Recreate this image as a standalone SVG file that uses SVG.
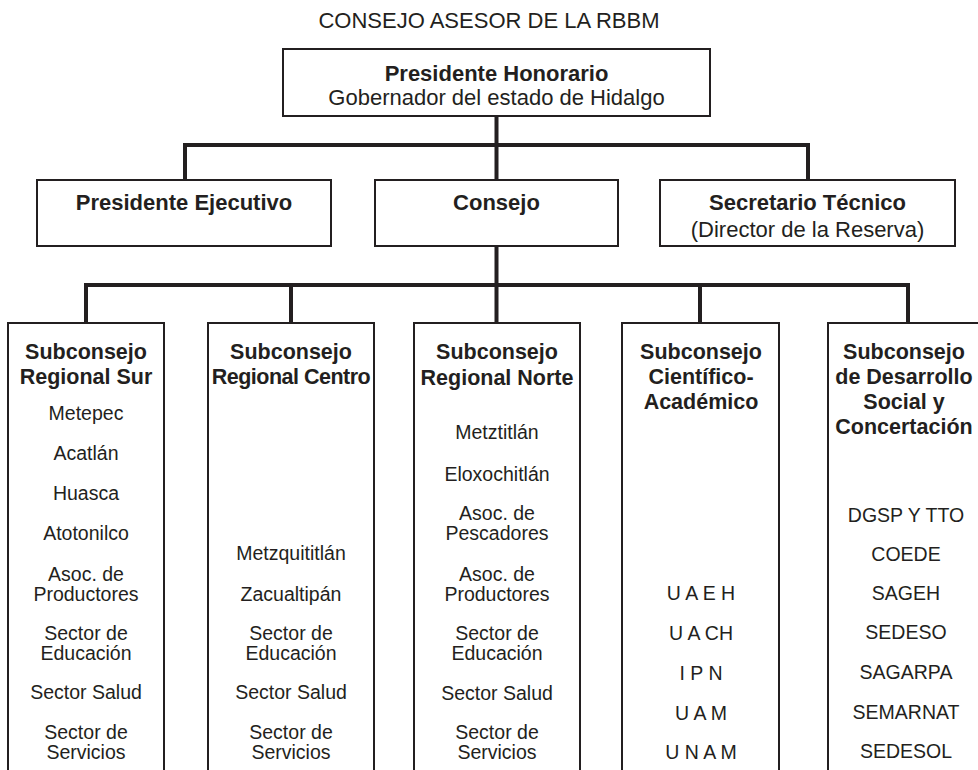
<svg xmlns="http://www.w3.org/2000/svg" width="978" height="770" viewBox="0 0 978 770">
<style>
text{font-family:"Liberation Sans",Arial,sans-serif;fill:#231f20;text-anchor:middle}
.t{font-size:22px}
.b{font-size:22px;font-weight:bold}
.h{font-size:21.5px;font-weight:bold}
.i{font-size:19.5px}
rect{fill:#fff;stroke:#231f20;stroke-width:2}
.c{fill:none;stroke:#231f20;stroke-width:4;stroke-linejoin:miter;stroke-linecap:square}
</style>
<rect x="0" y="0" width="978" height="770" style="stroke:none"/>
<text class="t" x="489" y="28">CONSEJO ASESOR DE LA RBBM</text>
<g id="connectors">
<path class="c" d="M496.5 117V180M185 180V145H808V180"/>
<path class="c" d="M496.5 247V323M86 323V285H908V323M291 285V323M700 285V323"/>
</g>
<g id="presidente-honorario">
<rect x="283" y="49" width="427" height="67"/>
<text class="b" x="496.5" y="81">Presidente Honorario</text>
<text class="t" x="496.5" y="105">Gobernador del estado de Hidalgo</text>
</g>
<g id="presidente-ejecutivo">
<rect x="37" y="180" width="294" height="66"/>
<text class="b" x="184" y="210">Presidente Ejecutivo</text>
</g>
<g id="consejo">
<rect x="375" y="180" width="243" height="66"/>
<text class="b" x="496.5" y="210">Consejo</text>
</g>
<g id="secretario-tecnico">
<rect x="660" y="180" width="295" height="66"/>
<text class="b" x="807.5" y="210">Secretario Técnico</text>
<text class="t" x="807.5" y="237">(Director de la Reserva)</text>
</g>
<g id="subconsejo-sur">
<rect x="8" y="323" width="156" height="460"/>
<text class="h" x="86" y="359">Subconsejo</text>
<text class="h" x="86" y="384">Regional Sur</text>
<text class="i" x="86" y="420">Metepec</text>
<text class="i" x="86" y="460">Acatlán</text>
<text class="i" x="86" y="500">Huasca</text>
<text class="i" x="86" y="540">Atotonilco</text>
<text class="i" x="86" y="581">Asoc. de</text>
<text class="i" x="86" y="601">Productores</text>
<text class="i" x="86" y="640">Sector de</text>
<text class="i" x="86" y="660">Educación</text>
<text class="i" x="86" y="699">Sector Salud</text>
<text class="i" x="86" y="739">Sector de</text>
<text class="i" x="86" y="759">Servicios</text>
</g>
<g id="subconsejo-centro">
<rect x="208" y="323" width="166" height="460"/>
<text class="h" x="291" y="359">Subconsejo</text>
<text class="h" x="291" y="384" letter-spacing="-0.5">Regional Centro</text>
<text class="i" x="291" y="560">Metzquititlán</text>
<text class="i" x="291" y="601">Zacualtipán</text>
<text class="i" x="291" y="640">Sector de</text>
<text class="i" x="291" y="660">Educación</text>
<text class="i" x="291" y="699">Sector Salud</text>
<text class="i" x="291" y="739">Sector de</text>
<text class="i" x="291" y="759">Servicios</text>
</g>
<g id="subconsejo-norte">
<rect x="414" y="323" width="166" height="460"/>
<text class="h" x="497" y="359">Subconsejo</text>
<text class="h" x="497" y="385">Regional Norte</text>
<text class="i" x="497" y="439">Metztitlán</text>
<text class="i" x="497" y="481">Eloxochitlán</text>
<text class="i" x="497" y="520">Asoc. de</text>
<text class="i" x="497" y="540">Pescadores</text>
<text class="i" x="497" y="581">Asoc. de</text>
<text class="i" x="497" y="601">Productores</text>
<text class="i" x="497" y="640">Sector de</text>
<text class="i" x="497" y="660">Educación</text>
<text class="i" x="497" y="700">Sector Salud</text>
<text class="i" x="497" y="739">Sector de</text>
<text class="i" x="497" y="759">Servicios</text>
</g>
<g id="subconsejo-cientifico">
<rect x="622" y="323" width="157" height="460"/>
<text class="h" x="701" y="359">Subconsejo</text>
<text class="h" x="701" y="384">Científico-</text>
<text class="h" x="701" y="409">Académico</text>
<text class="i" x="701" y="600">U A E H</text>
<text class="i" x="701" y="640">U A CH</text>
<text class="i" x="701" y="680">I P N</text>
<text class="i" x="701" y="720">U A M</text>
<text class="i" x="701" y="759">U N A M</text>
</g>
<g id="subconsejo-desarrollo">
<rect x="828" y="323" width="170" height="460"/>
<text class="h" x="904" y="359">Subconsejo</text>
<text class="h" x="904" y="384">de Desarrollo</text>
<text class="h" x="904" y="409">Social y</text>
<text class="h" x="904" y="434">Concertación</text>
<text class="i" x="906" y="522">DGSP Y TTO</text>
<text class="i" x="906" y="561">COEDE</text>
<text class="i" x="906" y="600">SAGEH</text>
<text class="i" x="906" y="639">SEDESO</text>
<text class="i" x="906" y="679">SAGARPA</text>
<text class="i" x="906" y="719">SEMARNAT</text>
<text class="i" x="906" y="758">SEDESOL</text>
</g>
</svg>
